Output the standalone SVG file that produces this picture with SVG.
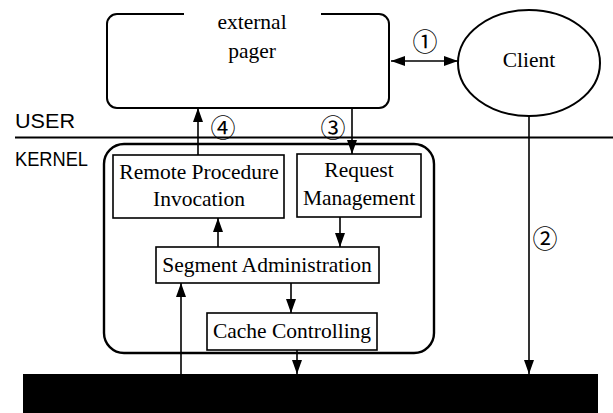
<svg xmlns="http://www.w3.org/2000/svg" width="613" height="413" viewBox="0 0 613 413">
  <style>
    .box { fill: #fff; stroke: #000; stroke-width: 1.6; }
    .lbl { font-family: "Liberation Serif", "Times New Roman", serif; font-size: 21.5px; fill: #000; text-anchor: middle; }
    .lvl { font-family: "Liberation Sans", Arial, sans-serif; font-size: 20px; fill: #000; }
    .num { font-family: "Noto Sans CJK JP", "DejaVu Sans", sans-serif; font-size: 25px; fill: #000; text-anchor: middle; dominant-baseline: central; }
    .wire { fill: none; stroke: #000; stroke-width: 1.6; }
  </style>
  <defs>
    <marker id="head" markerUnits="userSpaceOnUse" markerWidth="14" markerHeight="10" refX="14" refY="5" orient="auto-start-reverse">
      <path d="M0,0 L14,5 L0,10 Z" fill="#000"/>
    </marker>
  </defs>

  <rect width="613" height="413" fill="#fff"/>

  <!-- user / kernel boundary -->
  <g id="boundary">
    <line x1="15" y1="137.5" x2="613" y2="137.5" stroke="#000" stroke-width="2.2"/>
    <text class="lvl" x="15" y="128" textLength="60" lengthAdjust="spacingAndGlyphs">USER</text>
    <text class="lvl" x="15" y="166" textLength="73" lengthAdjust="spacingAndGlyphs">KERNEL</text>
  </g>

  <!-- kernel frame -->
  <g id="kernel">
    <rect x="104" y="144" width="330" height="209" rx="20" ry="20" fill="none" stroke="#000" stroke-width="2.4"/>
  </g>

  <g id="external-pager">
    <path d="M184,14 H117 A10,10 0 0 0 107,24 V98 A10,10 0 0 0 117,108 H379 A10,10 0 0 0 389,98 V24 A10,10 0 0 0 379,14 H321" fill="none" stroke="#000" stroke-width="2"/>
    <text class="lbl" x="252" y="29">external</text>
    <text class="lbl" x="252" y="58">pager</text>
  </g>

  <g id="client">
    <ellipse cx="529" cy="63" rx="71" ry="53" fill="#fff" stroke="#000" stroke-width="2"/>
    <text class="lbl" x="529" y="67">Client</text>
  </g>

  <g id="rpi">
    <rect class="box" x="113" y="155" width="171" height="63"/>
    <text class="lbl" x="199" y="179">Remote Procedure</text>
    <text class="lbl" x="199" y="206">Invocation</text>
  </g>

  <g id="request-management">
    <rect class="box" x="297" y="154" width="124" height="63"/>
    <text class="lbl" x="359" y="177">Request</text>
    <text class="lbl" x="359" y="205">Management</text>
  </g>

  <g id="segment-administration">
    <rect class="box" x="156" y="247" width="223" height="36"/>
    <text class="lbl" x="267" y="272">Segment Administration</text>
  </g>

  <g id="cache-controlling">
    <rect class="box" x="207" y="313" width="170" height="37"/>
    <text class="lbl" x="292" y="338">Cache Controlling</text>
  </g>

  <g id="memory-system">
    <rect x="23" y="374" width="575" height="39" fill="#000"/>
  </g>

  <!-- connectors -->
  <g id="connectors" class="wire">
    <line x1="391" y1="61" x2="458" y2="61" marker-start="url(#head)" marker-end="url(#head)"/>
    <line x1="352" y1="108" x2="352" y2="154" marker-end="url(#head)"/>
    <line x1="198" y1="155" x2="198" y2="108" marker-end="url(#head)"/>
    <line x1="218" y1="247" x2="218" y2="218" marker-end="url(#head)"/>
    <line x1="340" y1="217" x2="340" y2="247" marker-end="url(#head)"/>
    <line x1="291" y1="283" x2="291" y2="313" marker-end="url(#head)"/>
    <line x1="181" y1="374" x2="181" y2="283" marker-end="url(#head)"/>
    <line x1="297" y1="350" x2="297" y2="374" marker-end="url(#head)"/>
    <line x1="529" y1="116" x2="529" y2="374" marker-end="url(#head)"/>
  </g>

  <g id="step-numbers">
    <text class="num" x="425" y="40">①</text>
    <text class="num" x="545" y="237">②</text>
    <text class="num" x="333" y="126">③</text>
    <text class="num" x="223" y="126">④</text>
  </g>
</svg>
